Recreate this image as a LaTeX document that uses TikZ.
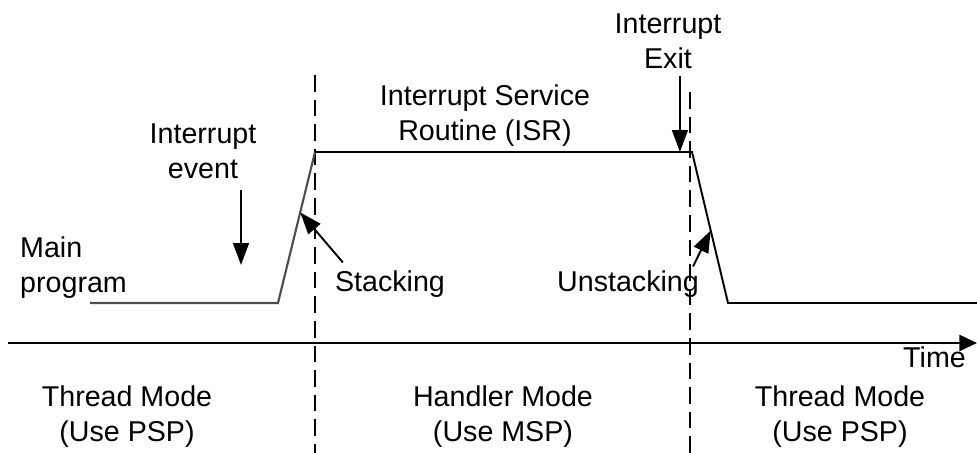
\documentclass[tikz,border=0pt]{standalone}
\usepackage{fontspec}
\setmainfont{Liberation Sans}
\usetikzlibrary{arrows.meta}

\tikzset{
  label text/.style={align=center, font=\fontsize{16.3}{20}\selectfont},
  pointer/.style={line width=1.1pt, -{Triangle[length=12.5pt,width=9pt]}},
  mode line/.style={line width=1.1pt, dash pattern=on 9.5pt off 4.5pt},
}

\begin{document}
\begin{tikzpicture}[x=0.02cm, y=-0.02cm]
  \useasboundingbox (0,0) rectangle (977,453);

  % mode boundaries
  \draw [mode line] (315,75) -- (315,453);
  \draw [mode line] (690,92) -- (690,453);

  % time axis
  \draw [line width=1.7pt, -{Triangle[length=10pt,width=9pt]}]
    (8,343) -- (977,343)
  ;
  \node [label text, anchor=north east] (time) at (972,341) {Time};

  % program flow
  \draw [line width=1.2pt, gray!60!black]
    (90,303)
    -- ++(188,0)
    -- ++(37,-151)
      coordinate [pos=0.6] (stack point)
  ;
  \draw [line width=1.1pt]
    (315,152)
    -- ++(377,0)
      coordinate [pos=0.968] (exit point)
    -- ++(36,151)
      coordinate [pos=0.52] (unstack point)
    -- (977,303)
  ;

  \node [label text, align=left, anchor=west] (main prog) at (14,268) {Main\\program};
  \node [label text] (int event) at (203,151) {Interrupt\\event};
  \node [label text] (isr) at (485,116) {Interrupt Service\\Routine (ISR)};
  \node [label text] (int exit) at (668,41) {Interrupt\\Exit};
  \node [label text] (stacking) at (390,284) {Stacking};
  \node [label text] (unstacking) at (628,284) {Unstacking};

  \coordinate (event tail) at (241,190);
  \coordinate (event tip) at (241,265);
  \draw [pointer] (event tail) -- (event tip);
  \draw [pointer, shorten <=1pt] (int exit.south -| exit point) -- (exit point);
  \draw [pointer] (stacking.north west) ++(14,-2) -- (stack point);
  \draw [pointer] (unstacking.north east) ++(-12,2) -- (unstack point);

  % modes
  \node [label text] (thread left) at (127,417) {Thread Mode\\(Use PSP)};
  \node [label text] (handler) at (503,417) {Handler Mode\\(Use MSP)};
  \node [label text] (thread right) at (840,417) {Thread Mode\\(Use PSP)};
\end{tikzpicture}
\end{document}
